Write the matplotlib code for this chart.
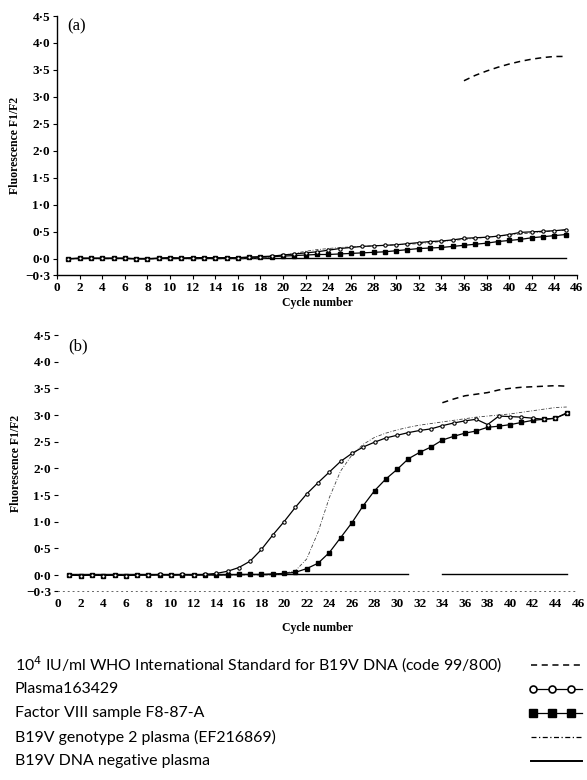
import numpy as np
import matplotlib
matplotlib.use('Agg')
import matplotlib.pyplot as plt
from matplotlib.lines import Line2D

# ciclos com leitura
ciclos = np.arange(1, 46)

# painel (a)
plasma_a = [0.0, 0.01, 0.01, 0.01, 0.01, 0.01, 0.0, 0.0, 0.01, 0.02, 0.01, 0.02, 0.02, 0.02, 0.02, 0.02, 0.03,
            0.04, 0.05, 0.07, 0.09, 0.11, 0.13, 0.16, 0.19, 0.21, 0.23, 0.24, 0.25, 0.26, 0.28, 0.30, 0.32,
            0.33, 0.35, 0.38, 0.39, 0.40, 0.42, 0.45, 0.49, 0.50, 0.51, 0.52, 0.54]
fator_a = [0.0, 0.01, 0.01, 0.01, 0.01, 0.01, 0.0, 0.0, 0.01, 0.02, 0.01, 0.02, 0.02, 0.01, 0.02, 0.02, 0.03,
           0.03, 0.04, 0.05, 0.06, 0.07, 0.08, 0.08, 0.09, 0.10, 0.11, 0.12, 0.13, 0.15, 0.17, 0.19, 0.20,
           0.21, 0.23, 0.25, 0.27, 0.29, 0.32, 0.34, 0.36, 0.39, 0.41, 0.43, 0.45]
genotipo2_a = [0.0] * 18 + [0.04, 0.07, 0.10, 0.14, 0.17, 0.19, 0.21, 0.22, 0.23, 0.24, 0.25, 0.26, 0.27,
                            0.28, 0.30, 0.32, 0.34, 0.36, 0.38, 0.40, 0.42, 0.44, 0.46, 0.48, 0.50, 0.52, 0.53]
negativo_a = [0.02] * 45
who_a_ciclos = np.arange(36, 46)
who_a = [3.30, 3.40, 3.48, 3.55, 3.61, 3.66, 3.70, 3.73, 3.75, 3.75]

# painel (b)
plasma_b = [0.0, -0.01, 0.0, -0.01, 0.0, -0.01, 0.0, 0.0, 0.01, 0.0, 0.01, 0.0, 0.01,
            0.03, 0.07, 0.14, 0.26, 0.48, 0.75, 1.00, 1.27, 1.52, 1.73, 1.93, 2.13, 2.28, 2.40, 2.49,
            2.57, 2.62, 2.67, 2.71, 2.74, 2.80, 2.85, 2.89, 2.92, 2.82, 2.98, 2.97, 2.96, 2.94, 2.92,
            2.94, 3.04]
fator_b = [0.0, -0.01, 0.0, -0.01, 0.0, -0.01, 0.0, 0.0, 0.0, 0.0, 0.0, 0.0, 0.0, 0.0, 0.0, 0.01,
           0.01, 0.01, 0.02, 0.03, 0.05, 0.12, 0.22, 0.42, 0.70, 0.98, 1.30, 1.58, 1.80, 1.98, 2.18,
           2.30, 2.40, 2.53, 2.60, 2.66, 2.70, 2.77, 2.79, 2.82, 2.86, 2.90, 2.92, 2.94, 3.03]
genotipo2_b = [0.0] * 19 + [0.03, 0.08, 0.30, 0.80, 1.45, 1.95, 2.25, 2.45, 2.58, 2.66, 2.72, 2.77,
                            2.81, 2.84, 2.87, 2.90, 2.93, 2.96, 2.98, 3.00, 3.02, 3.05, 3.08, 3.11,
                            3.14, 3.15]
negativo_b = [0.02] * 31 + [np.nan, np.nan] + [0.02] * 12
who_b_ciclos = np.arange(34, 46)
who_b = [3.23, 3.30, 3.36, 3.39, 3.42, 3.47, 3.50, 3.52, 3.53, 3.54, 3.55, 3.54]

yticks = [-0.3, 0.0, 0.5, 1.0, 1.5, 2.0, 2.5, 3.0, 3.5, 4.0, 4.5]
ytick_labels = ['\u22120\u00b73', '0\u00b70', '0\u00b75', '1\u00b70', '1\u00b75', '2\u00b70',
                '2\u00b75', '3\u00b70', '3\u00b75', '4\u00b70', '4\u00b75']
xticks = list(range(0, 47, 2))

legendas = ['10$^4$ IU/ml WHO International Standard for B19V DNA (code 99/800)',
            'Plasma163429',
            'Factor VIII sample F8-87-A',
            'B19V genotype 2 plasma (EF216869)',
            'B19V DNA negative plasma']

serif = 'Liberation Serif'
fig = plt.figure(figsize=(5.87, 7.80), dpi=100)

ax_a = fig.add_axes([57 / 587, 1 - 275 / 780, 520 / 587, 259 / 780])
ax_b = fig.add_axes([58 / 587, 1 - 591 / 780, 520 / 587, 256 / 780])

estilo_dd = (0, (4, 2, 1, 2))

for ax, who_c, who, pl, fa, g2, neg in [
        (ax_a, who_a_ciclos, who_a, plasma_a, fator_a, genotipo2_a, negativo_a),
        (ax_b, who_b_ciclos, who_b, plasma_b, fator_b, genotipo2_b, negativo_b)]:
    ax.plot(ciclos, neg, color='black', lw=1.0)
    ax.plot(ciclos, g2, color='0.25', lw=0.6, linestyle=estilo_dd)
    ax.plot(who_c, who, color='black', lw=1.1, linestyle=(0, (4, 3)))
    ax.plot(ciclos, fa, color='black', lw=0.9, marker='s', ms=2.6, mfc='black', mec='black')
    ax.plot(ciclos, pl, color='black', lw=0.9, marker='o', ms=2.4, mfc='white', mec='black', mew=0.8)
    ax.set_xlim(0, 46)
    ax.set_ylim(-0.3, 4.5)
    ax.set_xticks(xticks)
    ax.set_xticklabels([str(t) for t in xticks], fontfamily=serif, fontweight='bold', fontsize=9.5)
    ax.set_yticks(yticks)
    ax.set_yticklabels(ytick_labels, fontfamily=serif, fontweight='bold', fontsize=9.5)
    ax.spines['top'].set_visible(False)
    ax.spines['right'].set_visible(False)
    ax.tick_params(direction='out', length=3, width=0.8, pad=2)
    ax.set_ylabel('Fluorescence F1/F2', fontfamily=serif, fontweight='bold', fontsize=8.5, labelpad=3)
    ax.set_xlabel('Cycle number', fontfamily=serif, fontweight='bold', fontsize=8.5, labelpad=2)

ax_a.spines['left'].set_linewidth(1.0)
ax_a.spines['bottom'].set_linewidth(1.0)
ax_b.spines['left'].set_visible(False)
ax_b.spines['bottom'].set_linestyle((0, (1, 4)))
ax_b.spines['bottom'].set_color('0.4')
ax_b.spines['bottom'].set_linewidth(0.7)
ax_b.tick_params(axis='x', length=0, pad=5)
ax_b.xaxis.labelpad = 9

ax_a.text(0.02, 0.99, '(a)', transform=ax_a.transAxes, fontfamily=serif, fontsize=12,
          va='top', ha='left')
ax_b.text(0.02, 0.985, '(b)', transform=ax_b.transAxes, fontfamily=serif, fontsize=12,
          va='top', ha='left')

# legenda manual embaixo
amostras = [dict(linestyle=(0, (4, 3)), lw=1.1),
            dict(linestyle='-', lw=0.9, marker='o', ms=5, mfc='white', mec='black', mew=1.2),
            dict(linestyle='-', lw=0.9, marker='s', ms=5.5, mfc='black', mec='black'),
            dict(linestyle=estilo_dd, lw=0.9),
            dict(linestyle='-', lw=1.4)]
for i, (txt, est) in enumerate(zip(legendas, amostras)):
    y = 1 - (665 + 24 * i) / 780
    fig.text(15 / 587, y, txt, fontfamily='Lato', fontsize=11.4, va='center', ha='left')
    if 'marker' in est:
        fig.add_artist(Line2D([533 / 587, 552 / 587, 571 / 587, 582 / 587], [y] * 4,
                              color='black', markevery=[0, 1, 2], transform=fig.transFigure, **est))
    else:
        fig.add_artist(Line2D([531 / 587, 582 / 587], [y, y], color='black',
                              transform=fig.transFigure, **est))

plt.savefig('out.png', dpi=100)
